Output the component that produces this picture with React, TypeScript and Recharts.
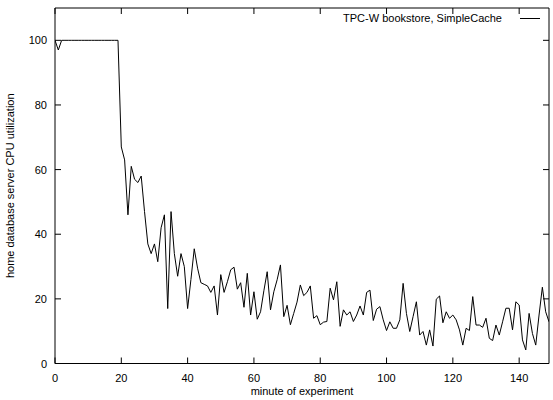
import React from 'react';
import { LineChart, Line, XAxis, YAxis, Legend } from 'recharts';

const FONT = '"Liberation Sans", Arial, Helvetica, sans-serif';

// CPU utilization (%) per minute of experiment
const cpuUtilization: number[] = [
  100, 97, 100, 100, 100, 100, 100, 100, 100, 100,
  100, 100, 100, 100, 100, 100, 100, 100, 100, 100,
  67, 63, 46, 61, 57, 56, 58, 47, 37, 34,
  37, 31.5, 42, 46, 17, 47, 34, 27, 34, 30,
  17, 26, 35.5, 29.5, 25, 24.5, 24, 22, 24, 15,
  27.5, 22, 25.3, 29, 29.8, 23, 25, 17.4, 27.9, 15,
  22.2, 13.7, 16, 22.5, 28.4, 16.6, 22.2, 25.9, 30.5, 14.5,
  18, 12, 15.5, 19, 24.3, 21, 22, 24, 14, 14.8,
  12, 12.8, 13, 23.3, 19.7, 25.3, 11.5, 16.6, 15, 16,
  13, 15, 17.8, 15, 22, 22.7, 13.3, 16.8, 17.6, 13.5,
  10.2, 12.9, 10.9, 10.9, 13.5, 24.8, 15.5, 9.9, 14.5, 19.1,
  8.8, 9.9, 5.7, 10.4, 5.4, 19.9, 20.9, 12.6, 16, 14,
  15, 13.5, 10.4, 5.7, 10.9, 10.2, 20.7, 11.9, 11.9, 11.2,
  14, 7.8, 7.1, 11.9, 8.8, 12.9, 17.1, 17.1, 10.4, 19.1,
  18.1, 7.3, 4.2, 15.5, 9.3, 5.7, 15, 23.6, 16, 12.9,
];

const minutes: number[] = cpuUtilization.map((_, i) => i);

const xTicks: number[] = [0, 20, 40, 60, 80, 100, 120, 140];
const yTicks: number[] = [0, 20, 40, 60, 80, 100];
const xDomain: [number, number] = [0, 149];
const yDomain: [number, number] = [0, 110];

const seriesName = 'TPC-W bookstore, SimpleCache';
const xLabel = 'minute of experiment';
const yLabel = 'home database server CPU utilization';

const data = minutes.map((m, i) => ({ minute: m, cpu: cpuUtilization[i] }));

const TICK_LEN = 6;

const BottomTick = (props: any) => {
  const { x, y, payload } = props;
  return (
    <g>
      <line x1={x} y1={y} x2={x} y2={y - TICK_LEN} stroke="#000" strokeWidth={1} />
      <text x={x} y={y + 18} textAnchor="middle" fontSize={11} fontFamily={FONT} fill="#000">
        {payload.value}
      </text>
    </g>
  );
};

const TopTick = (props: any) => {
  const { x, y } = props;
  return <line x1={x} y1={y} x2={x} y2={y + TICK_LEN} stroke="#000" strokeWidth={1} />;
};

const LeftTick = (props: any) => {
  const { x, y, payload } = props;
  return (
    <g>
      <line x1={x} y1={y} x2={x + TICK_LEN} y2={y} stroke="#000" strokeWidth={1} />
      <text x={x - 8} y={y + 4} textAnchor="end" fontSize={11} fontFamily={FONT} fill="#000">
        {payload.value}
      </text>
    </g>
  );
};

const RightTick = (props: any) => {
  const { x, y } = props;
  return <line x1={x} y1={y} x2={x - TICK_LEN} y2={y} stroke="#000" strokeWidth={1} />;
};

const LegendContent = () => (
  <div
    style={{
      display: 'flex',
      justifyContent: 'flex-end',
      alignItems: 'center',
      fontFamily: FONT,
      fontSize: 11,
      lineHeight: '12px',
      color: '#000',
      whiteSpace: 'nowrap',
    }}
  >
    <span>{seriesName}</span>
    <span
      style={{
        display: 'inline-block',
        width: 20,
        height: 0,
        borderTop: '1px solid #000',
        marginLeft: 18,
      }}
    />
  </div>
);

export default function App() {
  return (
    <div style={{ position: 'absolute', left: 0, top: 0, width: 553, height: 400, background: '#fff' }}>
      <LineChart width={553} height={400} data={data} margin={{ top: 0, right: 0, bottom: 0, left: 0 }}>
        <XAxis
          xAxisId={0}
          dataKey="minute"
          type="number"
          domain={xDomain}
          ticks={xTicks}
          allowDataOverflow
          height={36.5}
          tickSize={0}
          tickMargin={0}
          tickLine={false}
          axisLine={{ stroke: '#000', strokeWidth: 1 }}
          tick={BottomTick}
          interval={0}
          label={{ value: xLabel, position: 'insideBottom', offset: 5, fontSize: 11, fill: '#000', fontFamily: FONT }}
        />
        <XAxis
          xAxisId="top"
          orientation="top"
          type="number"
          domain={xDomain}
          ticks={xTicks}
          allowDataOverflow
          height={8}
          tickSize={0}
          tickMargin={0}
          tickLine={false}
          axisLine={{ stroke: '#000', strokeWidth: 1 }}
          tick={TopTick}
          interval={0}
        />
        <YAxis
          yAxisId={0}
          type="number"
          domain={yDomain}
          ticks={yTicks}
          allowDataOverflow
          width={55}
          tickSize={0}
          tickMargin={0}
          tickLine={false}
          axisLine={{ stroke: '#000', strokeWidth: 1 }}
          tick={LeftTick}
          interval={0}
          label={{
            value: yLabel,
            angle: -90,
            position: 'insideLeft',
            offset: 10,
            fontSize: 11,
            fill: '#000',
            fontFamily: FONT,
            style: { textAnchor: 'middle' },
          }}
        />
        <YAxis
          yAxisId="right"
          orientation="right"
          type="number"
          domain={yDomain}
          ticks={yTicks}
          allowDataOverflow
          width={4}
          tickSize={0}
          tickMargin={0}
          tickLine={false}
          axisLine={{ stroke: '#000', strokeWidth: 1 }}
          tick={RightTick}
          interval={0}
        />
        <Legend
          layout="vertical"
          align="center"
          verticalAlign="middle"
          content={LegendContent}
          wrapperStyle={{ top: 12, left: 300, width: 240, right: 'auto', bottom: 'auto' }}
        />
        <Line
          xAxisId={0}
          yAxisId={0}
          type="linear"
          dataKey="cpu"
          name={seriesName}
          stroke="#000"
          strokeWidth={1}
          dot={false}
          activeDot={false}
          isAnimationActive={false}
        />
      </LineChart>
    </div>
  );
}
